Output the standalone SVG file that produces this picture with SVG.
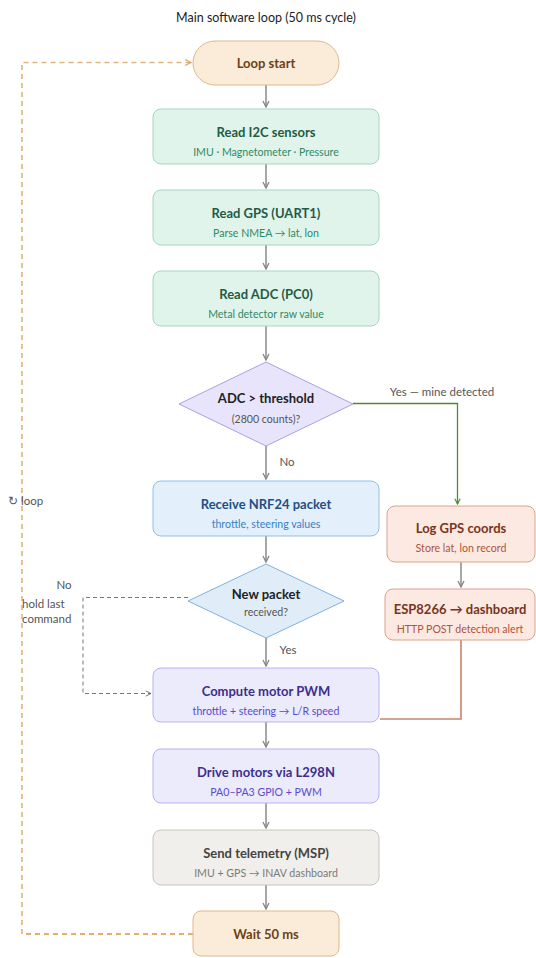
<svg xmlns="http://www.w3.org/2000/svg" width="536" height="958" viewBox="0 0 536 958">
<defs>
<marker id="ag" viewBox="0 0 8 8" refX="7" refY="4" markerWidth="8" markerHeight="8" markerUnits="userSpaceOnUse" orient="auto"><path d="M1,1 L7,4 L1,7" fill="none" stroke="#858585" stroke-width="1.3"/></marker>
<marker id="agr" viewBox="0 0 8 8" refX="7" refY="4" markerWidth="7" markerHeight="7" markerUnits="userSpaceOnUse" orient="auto"><path d="M1,1 L7,4 L1,7" fill="none" stroke="#4f8a2b" stroke-width="1.3"/></marker>
<marker id="ad" viewBox="0 0 8 8" refX="7" refY="4" markerWidth="7" markerHeight="7" markerUnits="userSpaceOnUse" orient="auto"><path d="M1,1 L7,4 L1,7" fill="none" stroke="#777" stroke-width="1.1"/></marker>
<marker id="ao" viewBox="0 0 8 8" refX="7" refY="4" markerWidth="8" markerHeight="8" markerUnits="userSpaceOnUse" orient="auto"><path d="M1,1 L7,4 L1,7" fill="none" stroke="#dca96a" stroke-width="1.3"/></marker>
</defs>
<style>
text{font-family:Lato,"Liberation Sans",sans-serif;text-anchor:middle}
.h{font-size:13px;font-weight:bold}
.s{font-size:10.6px}
.lbl{font-size:11.5px;fill:#555}
.term rect{fill:#fbecd9;stroke:#ddb88c;stroke-width:1}
.term text{fill:#6b4216}
.g rect{fill:#e1f4ec;stroke:#a3d7c0;stroke-width:1}
.g .h{fill:#1f5c45}.g .s{fill:#2f8a66}
.b rect{fill:#e3effa;stroke:#93bfe6;stroke-width:1}
.b .h{fill:#1d4f86}.b .s{fill:#3a7fc3}
.r rect{fill:#fbe9e2;stroke:#dca38c;stroke-width:1}
.r .h{fill:#7a3420}.r .s{fill:#b0543a}
.p rect{fill:#ecebfc;stroke:#b9b1ef;stroke-width:1}
.p .h{fill:#3d2f8c}.p .s{fill:#5a4acc}
.gr rect{fill:#f1efeb;stroke:#c8c4bc;stroke-width:1}
.gr .h{fill:#444}.gr .s{fill:#7a7a7a}
.c{fill:none;stroke:#8a8a8a;stroke-width:1.5}
</style>
<rect width="536" height="958" fill="#fff"/>
<text x="266" y="22" style="font-size:12.5px;fill:#222">Main software loop (50 ms cycle)</text>

<g id="connectors">
<path class="c" d="M266,85 V107" marker-end="url(#ag)"/>
<path class="c" d="M266,164 V188" marker-end="url(#ag)"/>
<path class="c" d="M266,245 V269" marker-end="url(#ag)"/>
<path class="c" d="M266,326 V360" marker-end="url(#ag)"/>
<path class="c" d="M266,446 V479" marker-end="url(#ag)"/>
<path class="c" d="M266,536 V562" marker-end="url(#ag)"/>
<path class="c" d="M266,638 V666" marker-end="url(#ag)"/>
<path class="c" d="M266,722 V747" marker-end="url(#ag)"/>
<path class="c" d="M266,803 V828" marker-end="url(#ag)"/>
<path class="c" d="M266,885 V909" marker-end="url(#ag)"/>
<path class="c" d="M461,562 V587" marker-end="url(#ag)"/>
<path d="M353,403.5 H457.5 V504" fill="none" stroke="#4f8a2b" stroke-width="1.3" marker-end="url(#agr)"/>
<path d="M461,640 V719 H380" fill="none" stroke="#c4866e" stroke-width="1.6"/>
<path d="M188,597.5 H83 V693.5 H151" fill="none" stroke="#777" stroke-width="1" stroke-dasharray="4,3" marker-end="url(#ad)"/>
<path d="M22,934 V62.5 H191" fill="none" stroke="#e2b37a" stroke-width="1.6" stroke-dasharray="5,4" marker-end="url(#ao)"/>
<path d="M193,934 H22" fill="none" stroke="#db9440" stroke-width="1.3" stroke-dasharray="5,4"/>
<text class="lbl" x="287" y="466">No</text>
<text class="lbl" x="288" y="654">Yes</text>
<text class="lbl" x="442" y="396">Yes — mine detected</text>
<text class="lbl" x="64" y="589">No</text>
<text class="lbl" x="22" y="608" style="text-anchor:start">hold last</text>
<text class="lbl" x="22" y="623" style="text-anchor:start">command</text>
<text class="lbl" x="8" y="505" style="text-anchor:start">↻ loop</text>
</g>

<g id="loop-start" class="term"><rect x="193" y="41" width="146" height="44" rx="22"/><text class="h" x="266" y="68">Loop start</text></g>
<g id="read-i2c" class="g"><rect x="153" y="109" width="226" height="55" rx="8"/><text class="h" x="266" y="137">Read I2C sensors</text><text class="s" x="266" y="156">IMU · Magnetometer · Pressure</text></g>
<g id="read-gps" class="g"><rect x="153" y="190" width="226" height="55" rx="8"/><text class="h" x="266" y="218">Read GPS (UART1)</text><text class="s" x="266" y="237">Parse NMEA → lat, lon</text></g>
<g id="read-adc" class="g"><rect x="153" y="271" width="226" height="55" rx="8"/><text class="h" x="266" y="299">Read ADC (PC0)</text><text class="s" x="266" y="318">Metal detector raw value</text></g>
<g id="adc-threshold"><polygon points="266,362 353,404 266,446 179,404" fill="#e7e4fb" stroke="#a9a0e6" stroke-width="1"/><text class="h" x="266" y="403" fill="#222">ADC &gt; threshold</text><text class="s" x="266" y="423" fill="#555">(2800 counts)?</text></g>
<g id="receive-nrf24" class="b"><rect x="153" y="481" width="226" height="55" rx="8"/><text class="h" x="266" y="509">Receive NRF24 packet</text><text class="s" x="266" y="528">throttle, steering values</text></g>
<g id="new-packet"><polygon points="266,564 344,601 266,638 188,601" fill="#e0edf9" stroke="#80b1e0" stroke-width="1"/><text class="h" x="266" y="599" fill="#222">New packet</text><text class="s" x="266" y="616" fill="#555">received?</text></g>
<g id="log-gps" class="r"><rect x="387" y="506" width="148" height="56" rx="8"/><text class="h" x="461" y="533">Log GPS coords</text><text class="s" x="461" y="552">Store lat, lon record</text></g>
<g id="esp8266" class="r"><rect x="385" y="589" width="150" height="51" rx="8"/><text class="h" x="460" y="614">ESP8266 → dashboard</text><text class="s" x="460" y="633">HTTP POST detection alert</text></g>
<g id="compute-pwm" class="p"><rect x="153" y="668" width="226" height="54" rx="8"/><text class="h" x="266" y="696">Compute motor PWM</text><text class="s" x="266" y="715">throttle + steering → L/R speed</text></g>
<g id="drive-motors" class="p"><rect x="153" y="749" width="226" height="54" rx="8"/><text class="h" x="266" y="777">Drive motors via L298N</text><text class="s" x="266" y="796">PA0–PA3 GPIO + PWM</text></g>
<g id="telemetry" class="gr"><rect x="153" y="830" width="226" height="55" rx="8"/><text class="h" x="266" y="858">Send telemetry (MSP)</text><text class="s" x="266" y="877">IMU + GPS → INAV dashboard</text></g>
<g id="wait" class="term"><rect x="193" y="911" width="146" height="45" rx="8"/><text class="h" x="266" y="939">Wait 50 ms</text></g>
</svg>
